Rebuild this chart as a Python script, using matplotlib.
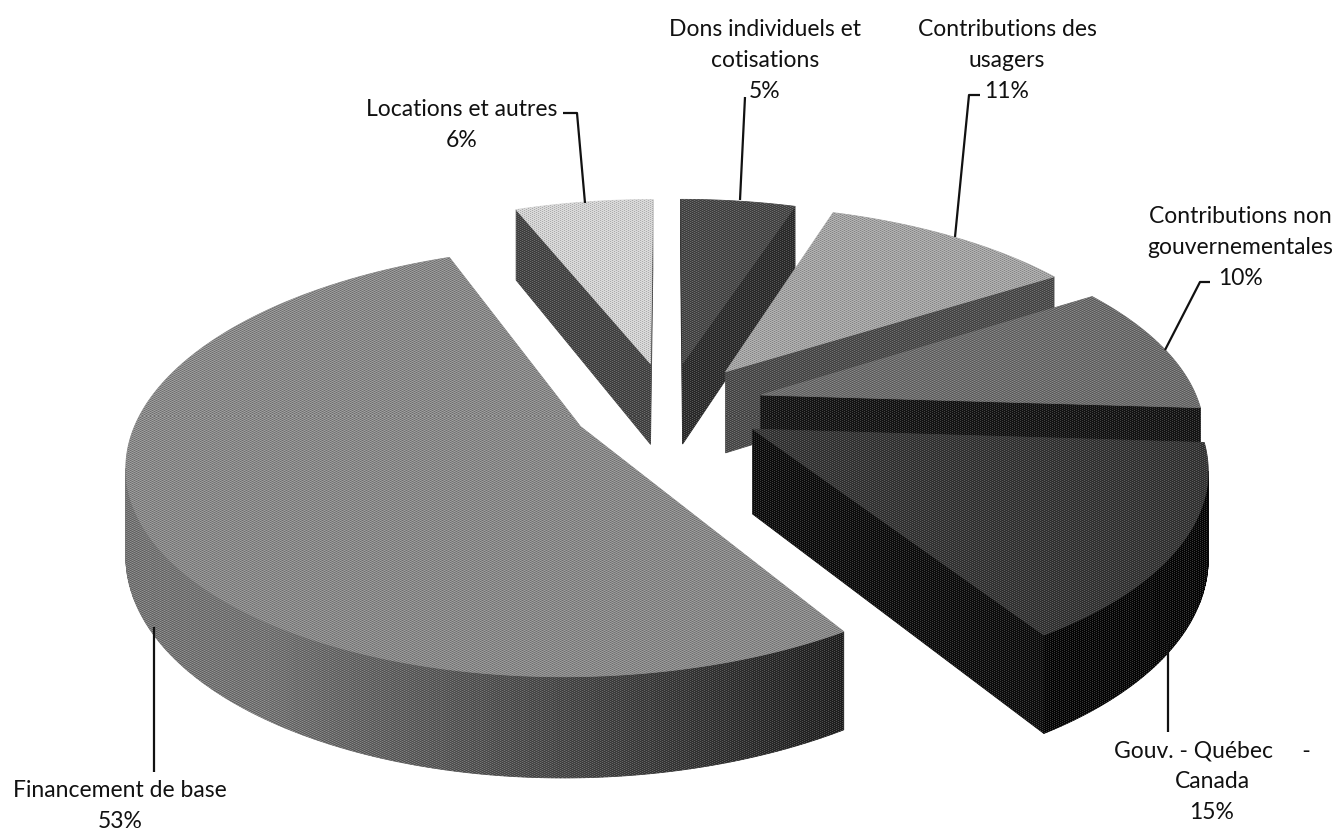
#!/usr/bin/env python3
"""Camembert 3D éclaté des sources de financement (projection en perspective)."""

import numpy as np
import matplotlib
matplotlib.use("Agg")
import matplotlib.pyplot as plt
from matplotlib.patches import PathPatch, Polygon
from matplotlib.path import Path

plt.rcParams["font.family"] = ["Lato", "DejaVu Sans"]

# sens horaire depuis le haut
labels = [
    "Dons individuels et\ncotisations",
    "Contributions des\nusagers",
    "Contributions non\ngouvernementales",
    "Gouv. - Québec     -\nCanada",
    "Financement de base",
    "Locations et autres",
]
values = [5, 11, 10, 15, 53, 6]

top_colors = ["#474747", "#a6a6a6", "#6c6c6c", "#343434", "#8a8a8a", "#d6d6d6"]
side_colors = ["#2c2c2c", "#4c4c4c", "#141414", "#0c0c0c", "#5a5a5a", "#454545"]
draw_order = [5, 0, 1, 2, 3, 4]

label_xy = [(765, 98), (1007, 98), (1240, 285), (1212, 819), (120, 828), (462, 147)]
leaders = [
    [(745, 97), (740, 200)],
    [(980, 95), (969, 95), (955, 237)],
    [(1210, 282), (1200, 282), (1165, 350)],
    [(1168, 643), (1168, 732)],
    [(154, 627), (154, 772)],
    [(563, 113), (577, 113), (585, 203)],
]

CX, CY = 668, 406
F = 439
K = 0.462
P = 0.16
DEPTH = 0.19
EXPLODE = 0.22

clip_polys = []


def project(x, y, down=0.0):
    w = 1 + P * y
    return CX + F * x / w, CY - F * K * y / w + F * down / w


def signed_area(pts):
    x, y = np.array(pts).T
    return 0.5 * np.sum(x * np.roll(y, -1) - np.roll(x, -1) * y)


def add_face(ax, pts, color, cull=True):
    # on n'affiche que les faces tournées vers l'observateur
    area = signed_area(pts)
    if cull and area >= 0:
        return
    ax.add_patch(Polygon(pts, closed=True, facecolor=color, edgecolor=color, linewidth=0.6))
    clip_polys.append(pts if area < 0 else pts[::-1])


def rim_color(side, theta):
    # le bord s'assombrit vers la droite
    base = matplotlib.colors.to_rgb(side)[0]
    shade = np.clip(0.8 - 0.85 * np.sin(theta), 0.3, 1.3)
    return (min(base * shade, 1.0),) * 3


def draw_wedge(ax, start, end, top, side):
    mid = np.radians((start + end) / 2)
    ox, oy = EXPLODE * np.sin(mid), EXPLODE * np.cos(mid)
    n = max(int(end - start) * 2, 8)
    theta = np.radians(np.linspace(start, end, n))
    xs = ox + np.sin(theta)
    ys = oy + np.cos(theta)

    apex_t = project(ox, oy)
    apex_b = project(ox, oy, DEPTH)
    rim_t = [project(x, y) for x, y in zip(xs, ys)]
    rim_b = [project(x, y, DEPTH) for x, y in zip(xs, ys)]

    # faces radiales
    add_face(ax, [apex_t, rim_t[0], rim_b[0], apex_b], side)
    add_face(ax, [rim_t[-1], apex_t, apex_b, rim_b[-1]], side)
    # bord extérieur
    for i in range(n - 1):
        add_face(ax, [rim_t[i], rim_t[i + 1], rim_b[i + 1], rim_b[i]], rim_color(side, theta[i]))
    add_face(ax, [apex_t] + rim_t, top, cull=False)


fig = plt.figure(figsize=(13.4, 8.3), dpi=100)
ax = fig.add_axes([0, 0, 1, 1])
ax.set_xlim(0, 1340)
ax.set_ylim(830, 0)
ax.axis("off")

edges = np.cumsum([0] + values) * 360 / sum(values)
for idx in draw_order:
    draw_wedge(ax, edges[idx], edges[idx + 1], top_colors[idx], side_colors[idx])

# trame de numérisation, limitée aux faces du camembert
yy, xx = np.indices((830, 1340))
grain = np.zeros((830, 1340, 4))
grain[(xx + 2 * yy) % 4 == 0] = (1, 1, 1, 0.2)
grain[(xx + 2 * yy) % 4 == 2] = (0, 0, 0, 0.2)
clip_path = Path.make_compound_path(*[Path(list(p) + [p[0]], closed=True) for p in clip_polys])
clip_patch = PathPatch(clip_path, transform=ax.transData, facecolor="none", edgecolor="none")
ax.add_patch(clip_patch)
img = ax.imshow(grain, extent=(0, 1340, 830, 0), aspect="auto", interpolation="nearest", zorder=2)
img.set_clip_path(clip_patch)
ax.set_xlim(0, 1340)
ax.set_ylim(830, 0)

for pts in leaders:
    x, y = zip(*pts)
    ax.plot(x, y, color="#111111", linewidth=1.6, solid_capstyle="butt", zorder=3)

for label, value, (x, y) in zip(labels, values, label_xy):
    ax.text(x, y, f"{label}\n{value}%", ha="center", va="baseline", fontsize=16.5,
            color="#111111", linespacing=1.58, multialignment="center", zorder=4)

fig.savefig("out.png", dpi=100)
